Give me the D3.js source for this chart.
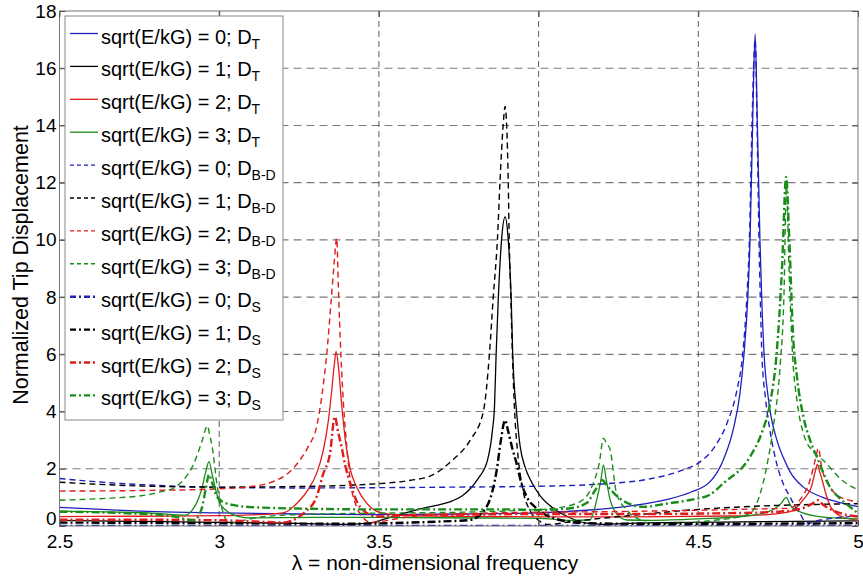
<!DOCTYPE html>
<html><head><meta charset="utf-8">
<script src="https://cdn.jsdelivr.net/npm/d3@7"></script>
<style>
body{margin:0;background:#fff}
svg{display:block}
text{font-family:"Liberation Sans",Arial,Helvetica,sans-serif;fill:#000}
</style>
</head><body>
<svg id="chart" width="863" height="577"></svg>
<script>
// ---------- data ----------
const xTicks = [2.5, 3, 3.5, 4, 4.5, 5];
const xTickLabels = ["2.5", "3", "3.5", "4", "4.5", "5"];
const yTicks = [0, 2, 4, 6, 8, 10, 12, 14, 16, 18];
const yTickLabels = ["0", "2", "4", "6", "8", "10", "12", "14", "16", "18"];
const ratios = [0, 1, 2, 3];
const xTitle = "λ = non-dimensional frequency";
const yTitle = "Normalized Tip Displacement";

// D_T (solid)
const T0 = [[2.5,0.65],[2.65,0.57],[2.8,0.5],[3.0,0.46],[3.25,0.42],[3.5,0.4],[3.75,0.42],[4.0,0.46],[4.15,0.55],[4.3,0.72],[4.4,0.92],[4.476,1.18],[4.537,1.55],[4.578,2.3],[4.61,3.4],[4.63,4.6],[4.643,6],[4.655,8],[4.662,10],[4.67,14],[4.678,17.2],[4.685,14],[4.693,10],[4.699,7.8],[4.706,6],[4.72,4.4],[4.746,3.0],[4.77,2.3],[4.787,1.9],[4.83,1.35],[4.89,1.0],[4.95,0.8],[5.0,0.68]];
const T1 = [[2.5,0.2],[2.75,0.16],[3.0,0.13],[3.25,0.09],[3.4,0.06],[3.47,0.1],[3.52,0.25],[3.58,0.45],[3.63,0.6],[3.68,0.72],[3.73,0.88],[3.76,1.05],[3.786,1.3],[3.81,1.65],[3.84,2.3],[3.855,3.3],[3.862,4.2],[3.867,6],[3.874,8],[3.884,10],[3.895,10.8],[3.905,10],[3.914,8],[3.919,6],[3.931,4],[3.942,2.8],[3.958,2.05],[3.975,1.6],[4.005,1.05],[4.046,0.62],[4.1,0.28],[4.15,0.1],[4.2,0.06],[4.3,0.1],[4.5,0.13],[4.7,0.15],[5.0,0.18]];
const T2 = [[2.5,0.33],[2.75,0.34],[3.0,0.36],[3.1,0.39],[3.2,0.46],[3.253,0.91],[3.28,1.3],[3.305,1.84],[3.325,2.6],[3.342,3.7],[3.352,4.7],[3.36,5.6],[3.366,6.1],[3.374,5.5],[3.383,4.3],[3.395,3.0],[3.41,2.0],[3.43,1.37],[3.462,0.79],[3.514,0.44],[3.6,0.36],[3.8,0.33],[4.0,0.32],[4.3,0.32],[4.6,0.35],[4.72,0.4],[4.787,0.5],[4.83,0.94],[4.855,1.4],[4.866,1.9],[4.873,2.15],[4.88,1.9],[4.888,1.6],[4.9,1.1],[4.913,0.7],[4.945,0.35],[5.0,0.2]];
const T3 = [[2.5,0.52],[2.7,0.48],[2.8,0.44],[2.895,0.38],[2.916,0.56],[2.935,0.95],[2.947,1.37],[2.958,1.9],[2.968,2.25],[2.978,1.8],[2.989,1.26],[3.0,0.85],[3.02,0.56],[3.062,0.33],[3.1,0.28],[3.3,0.3],[3.5,0.3],[3.8,0.28],[4.0,0.27],[4.1,0.2],[4.161,0.21],[4.182,0.91],[4.195,1.6],[4.203,2.13],[4.212,1.6],[4.224,0.91],[4.244,0.44],[4.276,0.21],[4.35,0.2],[4.5,0.25],[4.65,0.35],[4.72,0.5],[4.76,0.8],[4.775,1.0],[4.79,0.7],[4.83,0.45],[4.9,0.3],[5.0,0.25]];

// D_B-D (dashed)
const BD0 = [[2.5,1.66],[2.6,1.56],[2.75,1.45],[2.9,1.38],[3.0,1.35],[3.25,1.33],[3.5,1.34],[3.75,1.36],[4.0,1.39],[4.2,1.47],[4.35,1.65],[4.45,1.95],[4.5,2.2],[4.55,2.75],[4.59,3.6],[4.62,4.7],[4.639,6],[4.652,8],[4.66,10],[4.668,14],[4.678,17.0],[4.684,14],[4.69,10],[4.694,8],[4.699,6],[4.71,4.5],[4.725,3.3],[4.745,2.2],[4.765,1.5],[4.787,1.02],[4.805,0.65],[4.818,0.45],[4.834,0.15],[4.845,0.1],[4.87,0.18],[4.92,0.27],[5.0,0.35]];
const BD1 = [[2.5,1.53],[2.6,1.47],[2.75,1.4],[3.0,1.36],[3.25,1.38],[3.5,1.48],[3.6,1.6],[3.66,1.74],[3.73,2.3],[3.786,3.0],[3.827,4],[3.846,6],[3.858,8],[3.871,10],[3.879,12],[3.889,14],[3.895,14.66],[3.9,14],[3.905,12],[3.908,10],[3.913,8],[3.918,6],[3.925,4],[3.935,2.5],[3.95,1.3],[3.97,0.6],[4.0,0.2],[4.03,0.05],[4.1,0.15],[4.3,0.38],[4.5,0.58],[4.7,0.7],[4.85,0.75],[5.0,0.78]];
const BD2 = [[2.5,1.22],[2.75,1.24],[3.0,1.3],[3.096,1.37],[3.2,1.72],[3.253,2.31],[3.28,2.8],[3.305,3.47],[3.322,4.6],[3.337,6.04],[3.35,7.8],[3.36,9.2],[3.368,10.06],[3.373,8.37],[3.381,6.0],[3.389,4.29],[3.4,2.7],[3.41,1.61],[3.43,0.67],[3.45,0.3],[3.475,0.12],[3.5,0.15],[3.6,0.33],[3.8,0.44],[4.0,0.48],[4.2,0.5],[4.5,0.55],[4.7,0.6],[4.787,0.62],[4.818,0.91],[4.85,1.61],[4.866,2.3],[4.876,2.72],[4.886,2.07],[4.912,1.37],[4.943,1.02],[5.0,0.85]];
const BD3 = [[2.5,0.9],[2.65,0.97],[2.75,1.05],[2.82,1.2],[2.864,1.37],[2.895,1.7],[2.916,2.07],[2.935,2.6],[2.947,3.0],[2.963,3.5],[2.97,3.2],[2.978,2.77],[2.994,1.37],[3.01,0.56],[3.031,0.09],[3.06,0.15],[3.12,0.3],[3.25,0.4],[3.5,0.45],[3.75,0.48],[3.95,0.55],[4.05,0.62],[4.13,0.85],[4.171,1.49],[4.19,2.2],[4.203,3.07],[4.212,2.9],[4.224,2.66],[4.244,1.14],[4.276,0.56],[4.317,0.21],[4.36,0.08],[4.45,0.1],[4.55,0.2],[4.62,0.3],[4.662,0.44],[4.69,1.0],[4.714,2.07],[4.735,3.47],[4.756,5.57],[4.768,8],[4.776,11.9],[4.784,9],[4.795,6.0],[4.81,4.3],[4.83,3.2],[4.86,2.6],[4.891,2.3],[4.95,1.6],[5.0,1.26]];

// D_S (dash-dot)
const S0 = [[2.5,0],[3.0,0],[3.5,0],[4.0,0],[4.5,0],[5.0,0]];
const S1 = [[2.5,0.12],[3.0,0.1],[3.4,0.08],[3.6,0.12],[3.7,0.16],[3.785,0.21],[3.837,0.67],[3.855,1.2],[3.869,1.96],[3.882,3.0],[3.895,3.7],[3.905,3.3],[3.918,2.7],[3.931,2.19],[3.946,1.5],[3.963,1.02],[3.99,0.65],[4.015,0.44],[4.067,0.21],[4.15,0.1],[4.3,0.08],[4.6,0.08],[5.0,0.1]];
const S2 = [[2.5,0.22],[2.75,0.22],[3.0,0.2],[3.15,0.14],[3.2,0.12],[3.232,0.21],[3.27,0.5],[3.305,1.02],[3.325,1.8],[3.347,2.54],[3.362,3.82],[3.372,3.3],[3.383,2.77],[3.395,2.1],[3.41,1.49],[3.441,0.67],[3.493,0.33],[3.6,0.38],[3.8,0.4],[4.0,0.42],[4.3,0.42],[4.6,0.45],[4.75,0.5],[4.82,0.6],[4.86,0.8],[4.875,0.9],[4.89,0.75],[4.92,0.55],[4.96,0.4],[5.0,0.33]];
const S3 = [[2.5,0.5],[2.7,0.45],[2.85,0.35],[2.92,0.2],[2.945,0.6],[2.958,1.3],[2.968,1.8],[2.978,1.5],[2.99,1.1],[3.01,0.85],[3.05,0.72],[3.1,0.66],[3.3,0.6],[3.5,0.58],[3.75,0.58],[3.9,0.58],[4.0,0.56],[4.1,0.62],[4.15,0.8],[4.18,1.3],[4.2,1.6],[4.215,1.4],[4.24,1.1],[4.27,0.85],[4.328,0.67],[4.4,0.78],[4.474,0.91],[4.537,1.1],[4.578,1.49],[4.662,2.42],[4.7,3.3],[4.725,4.3],[4.745,6],[4.762,9],[4.775,12.2],[4.785,10],[4.797,6.6],[4.808,5.3],[4.829,3.82],[4.85,3.0],[4.871,2.42],[4.912,1.37],[4.95,0.9],[4.975,0.67],[5.0,0.44]];

// ---------- layout ----------
const W = 863, H = 577;
const M = {left: 59.5, right: 858, top: 11, bottom: 526};
const colors = ["#1f1fbf", "#000000", "#e01b1b", "#1a8c1a"];
const seriesDefs = [
  {data: T0, r: 0, kind: "solid", sub: "T"},
  {data: T1, r: 1, kind: "solid", sub: "T"},
  {data: T2, r: 2, kind: "solid", sub: "T"},
  {data: T3, r: 3, kind: "solid", sub: "T"},
  {data: BD0, r: 0, kind: "dash", sub: "B-D"},
  {data: BD1, r: 1, kind: "dash", sub: "B-D"},
  {data: BD2, r: 2, kind: "dash", sub: "B-D"},
  {data: BD3, r: 3, kind: "dash", sub: "B-D"},
  {data: S0, r: 0, kind: "dashdot", sub: "S"},
  {data: S1, r: 1, kind: "dashdot", sub: "S"},
  {data: S2, r: 2, kind: "dashdot", sub: "S"},
  {data: S3, r: 3, kind: "dashdot", sub: "S"}
];
const styles = {
  solid: {w: 1.3, dash: null},
  dash: {w: 1.4, dash: "6,4"},
  dashdot: {w: 2.4, dash: "8,3,2,3"}
};

const svg = d3.select("#chart");
const x = d3.scaleLinear().domain([2.5, 5]).range([M.left, M.right]);
const y = d3.scaleLinear().domain([0, 18]).range([M.bottom, M.top]);

svg.append("rect").attr("width", W).attr("height", H).attr("fill", "#fff");

// grid
const grid = svg.append("g");
grid.selectAll("line.gy").data(yTicks.slice(1, -1)).enter().append("line")
  .attr("x1", M.left).attr("x2", M.right)
  .attr("y1", d => y(d)).attr("y2", d => y(d))
  .attr("stroke", "#7a7a7a").attr("stroke-width", 1.1).attr("stroke-dasharray", "8,5");
grid.selectAll("line.gx").data(xTicks.slice(1, -1)).enter().append("line")
  .attr("y1", M.top).attr("y2", M.bottom)
  .attr("x1", d => x(d)).attr("x2", d => x(d))
  .attr("stroke", "#333").attr("stroke-width", 0.8).attr("stroke-dasharray", "6,4");

// clip
svg.append("clipPath").attr("id", "clip").append("rect")
  .attr("x", M.left).attr("y", M.top).attr("width", M.right - M.left).attr("height", M.bottom - M.top);

const line = d3.line().x(d => x(d[0])).y(d => y(d[1])).curve(d3.curveMonotoneX);
const plot = svg.append("g").attr("clip-path", "url(#clip)");
seriesDefs.forEach(s => {
  const st = styles[s.kind];
  plot.append("path").datum(s.data).attr("d", line)
    .attr("fill", "none").attr("stroke", colors[s.r])
    .attr("stroke-width", st.w).attr("stroke-dasharray", st.dash)
    .attr("stroke-linejoin", "round");
});

// axes box
svg.append("rect").attr("x", M.left).attr("y", M.top)
  .attr("width", M.right - M.left).attr("height", M.bottom - M.top)
  .attr("fill", "none").attr("stroke", "#777").attr("stroke-width", 1);

const axB = svg.append("g").attr("transform", `translate(0,${M.bottom})`)
  .call(d3.axisBottom(x).tickValues(xTicks).tickFormat((d, i) => xTickLabels[i]).tickSizeInner(-6).tickSizeOuter(0).tickPadding(9));
const axL = svg.append("g").attr("transform", `translate(${M.left},0)`)
  .call(d3.axisLeft(y).tickValues(yTicks).tickFormat((d, i) => yTickLabels[i]).tickSizeInner(-6).tickSizeOuter(0).tickPadding(3));
const axT = svg.append("g").attr("transform", `translate(0,${M.top})`)
  .call(d3.axisTop(x).tickValues(xTicks).tickFormat("").tickSizeInner(-6).tickSizeOuter(0));
const axR = svg.append("g").attr("transform", `translate(${M.right},0)`)
  .call(d3.axisRight(y).tickValues(yTicks).tickFormat("").tickSizeInner(-6).tickSizeOuter(0));
[axB, axL, axT, axR].forEach(a => {
  a.select(".domain").remove();
  a.selectAll(".tick line").attr("stroke", "#555");
  a.selectAll("text").attr("font-size", 19).attr("font-family", "'Liberation Sans', Arial, sans-serif").attr("fill", "#000");
});
// lift the "0" label slightly so it clears the "2.5" label below it
axL.selectAll(".tick").filter(d => d === 0).select("text").attr("dy", "-0.1em");

// titles
svg.append("text").attr("x", 435).attr("y", 570).attr("text-anchor", "middle")
  .attr("font-size", 21).text(xTitle);
svg.append("text").attr("transform", "translate(28,265) rotate(-90)").attr("text-anchor", "middle")
  .attr("font-size", 21.5).text(yTitle);

// legend
const lg = svg.append("g");
lg.append("rect").attr("x", 65).attr("y", 16).attr("width", 218).attr("height", 404)
  .attr("fill", "#fff").attr("stroke", "#888").attr("stroke-width", 1);
seriesDefs.forEach((s, i) => {
  const by = 43.5 + i * 32.9;
  const st = styles[s.kind];
  lg.append("line").attr("x1", 70).attr("x2", 98).attr("y1", by - 10).attr("y2", by - 10)
    .attr("stroke", colors[s.r]).attr("stroke-width", st.w)
    .attr("stroke-dasharray", s.kind === "dash" ? "4,3" : (s.kind === "dashdot" ? "6,3,2,3" : null));
  const t = lg.append("text").attr("x", 101).attr("y", by).attr("font-size", 20);
  t.append("tspan").text(`sqrt(E/kG) = ${ratios[s.r]}; D`);
  t.append("tspan").attr("font-size", 14).attr("dy", 5).text(s.sub);
});
</script>
</body></html>
